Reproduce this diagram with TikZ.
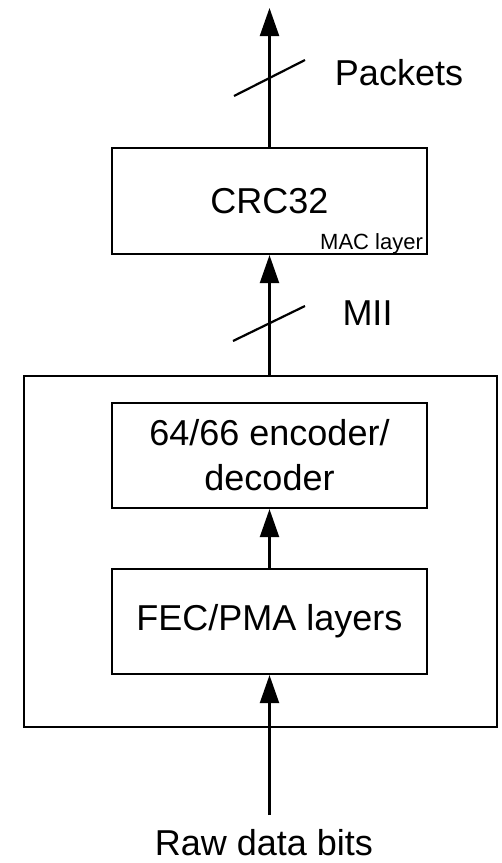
\documentclass[tikz,border=0pt]{standalone}
\usepackage{fontspec}
\setmainfont{Liberation Sans}
\usetikzlibrary{arrows.meta,calc}

\begin{document}
\begin{tikzpicture}[x=1pt,y=-1pt,
    line width=2.2pt,
    block/.style={draw,minimum width=315pt,minimum height=105pt,inner sep=0pt,
      font=\fontsize{36}{45}\selectfont,align=center},
    flow/.style={-{Triangle[length=28pt,width=19pt]}},
    lbl/.style={font=\fontsize{36}{45}\selectfont,inner sep=0pt}]
  \useasboundingbox (0,0) rectangle (502,863);
  % outer PHY box and inner blocks
  \node[draw,minimum width=473pt,minimum height=351pt,inner sep=0pt] (phy) at (260.5,551.5) {};
  \node[block,minimum height=106pt] (crc) at (269.5,201) {CRC32};
  \node[block] (enc) at (269.5,455.5) {64/66 encoder/\\decoder};
  \node[block] (fec) at (269.5,621.5) {FEC/PMA layers};
  \node[anchor=base east,inner sep=0pt,font=\fontsize{22}{26}\selectfont] (mac) at (424,249) {MAC layer};
  % free ends
  \coordinate (out) at (269.5,8);
  \coordinate (raw) at (269.5,815);
  % connectors
  \draw[flow] (crc.north) -- (out);
  \draw[flow] (phy.north -| crc.south) -- (crc.south);
  \draw[flow] (fec.north) -- (enc.south);
  \draw[flow] (raw) -- (fec.south);
  % bus slashes
  \draw (234,96) -- (305,60);
  \draw (233,341) -- (305,306);
  % labels
  \node[lbl] (pkt) at (399,73) {Packets};
  \node[lbl] (mii) at (367.5,313) {MII};
  \node[lbl] (bits) at (264,843) {Raw data bits};
\end{tikzpicture}
\end{document}
